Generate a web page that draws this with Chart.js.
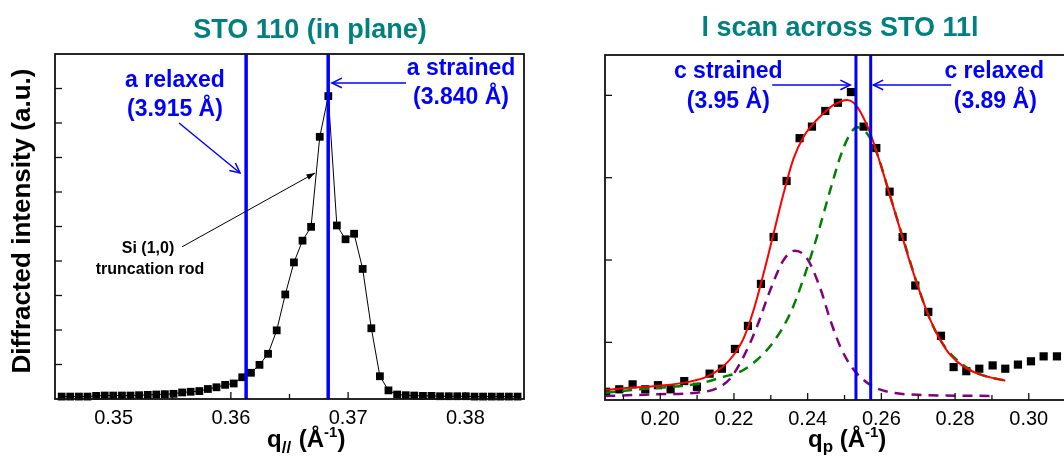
<!DOCTYPE html>
<html>
<head>
<meta charset="utf-8">
<script src="https://cdn.jsdelivr.net/npm/chart.js@4"></script>
<style>
  html, body { margin: 0; padding: 0; background: #fff; overflow: hidden; width: 1064px; height: 459px; }
  #left { position: absolute; left: 0; top: 0; }
  #right { position: absolute; left: 540px; top: 0; }
</style>
</head>
<body>
<canvas id="left" width="540" height="459"></canvas>
<canvas id="right" width="540" height="459"></canvas>
<script>
const FONT = 'Arial, "Liberation Sans", sans-serif';

// left panel: STO 110 in plane
const leftQ = [0.34557, 0.34630, 0.34704, 0.34777, 0.34851, 0.34924, 0.34997, 0.35071, 0.35144, 0.35217,
  0.35291, 0.35364, 0.35437, 0.35511, 0.35584, 0.35657, 0.35731, 0.35804, 0.35877, 0.35951,
  0.36024, 0.36097, 0.36171, 0.36244, 0.36317, 0.36391, 0.36464, 0.36538, 0.36611, 0.36684,
  0.36758, 0.36831, 0.36904, 0.36978, 0.37051, 0.37124, 0.37198, 0.37271, 0.37344, 0.37418,
  0.37491, 0.37564, 0.37638, 0.37711, 0.37784, 0.37858, 0.37931, 0.38004, 0.38078, 0.38151,
  0.38225, 0.38298, 0.38371, 0.38445];
const leftI = [0.07, 0.07, 0.07, 0.07, 0.09, 0.10, 0.10, 0.10, 0.10, 0.11,
  0.12, 0.13, 0.14, 0.15, 0.19, 0.21, 0.23, 0.29, 0.34, 0.41,
  0.45, 0.63, 0.76, 0.99, 1.31, 1.99, 3.03, 3.96, 4.59, 4.99,
  7.60, 8.78, 5.03, 4.63, 4.79, 3.77, 2.05, 0.66, 0.25, 0.13,
  0.11, 0.10, 0.09, 0.09, 0.08, 0.08, 0.08, 0.08, 0.07, 0.07,
  0.07, 0.07, 0.07, 0.07];
const aRelaxed = 0.3613;
const aStrained = 0.3683;
const leftXMajor = [0.35, 0.36, 0.37, 0.38];
const leftXMinor = [0.355, 0.365, 0.375];
const leftYTicks = [1, 2, 3, 4, 5, 6, 7, 8, 9];

// right panel: l scan across STO 11l
const rightQ = [0.1853, 0.18887, 0.19249, 0.19593, 0.19937, 0.20280, 0.20651, 0.20995, 0.21339, 0.21673,
  0.22026, 0.22379, 0.22732, 0.23076, 0.23428, 0.23781, 0.24116, 0.24478, 0.24821, 0.25174,
  0.25518, 0.25862, 0.26223, 0.26576, 0.26920, 0.27273, 0.27617, 0.27960, 0.28304, 0.28657,
  0.29019, 0.29362, 0.29706, 0.30059, 0.30403, 0.30764];
const rightI = [0.10, 0.13, 0.19, 0.13, 0.18, 0.13, 0.23, 0.16, 0.32, 0.38,
  0.62, 0.90, 1.41, 1.98, 2.66, 3.18, 3.32, 3.51, 3.61, 3.74,
  3.32, 3.06, 2.53, 1.98, 1.39, 1.07, 0.78, 0.40, 0.35, 0.38,
  0.42, 0.38, 0.43, 0.47, 0.53, 0.53];
const fitQ = [0.18507, 0.19005, 0.19910, 0.20814, 0.21266, 0.21719, 0.21990, 0.22261, 0.22533, 0.22804,
  0.23076, 0.23347, 0.23618, 0.23890, 0.24161, 0.24432, 0.24704, 0.25066, 0.25247, 0.25428,
  0.25699, 0.25970, 0.26242, 0.26513, 0.26784, 0.27056, 0.27327, 0.27598, 0.27870, 0.28232,
  0.28593, 0.28955, 0.29362];
const fitI = [0.121, 0.142, 0.170, 0.223, 0.283, 0.413, 0.547, 0.749, 1.093, 1.538,
  2.024, 2.510, 2.935, 3.198, 3.360, 3.482, 3.583, 3.644, 3.611, 3.502,
  3.239, 2.874, 2.470, 2.065, 1.660, 1.296, 0.972, 0.729, 0.547, 0.405,
  0.324, 0.275, 0.235];
const strainedQ = [0.18507, 0.19457, 0.20362, 0.21085, 0.21719, 0.22171, 0.22623, 0.23076, 0.23528, 0.23890,
  0.24252, 0.24613, 0.24885, 0.25111, 0.25337, 0.25608, 0.25880, 0.26242, 0.26603, 0.26965,
  0.27327, 0.27689, 0.28051, 0.28503, 0.28955, 0.29362];
const strainedI = [0.089, 0.130, 0.162, 0.202, 0.283, 0.344, 0.486, 0.709, 1.053, 1.478,
  1.984, 2.551, 2.955, 3.198, 3.312, 3.239, 2.996, 2.470, 1.943, 1.417,
  0.972, 0.668, 0.486, 0.344, 0.275, 0.235];
const relaxedQ = [0.18507, 0.19910, 0.20995, 0.21538, 0.21900, 0.22261, 0.22623, 0.22985, 0.23347, 0.23663,
  0.23980, 0.24342, 0.24613, 0.24885, 0.25156, 0.25518, 0.25880, 0.26423, 0.27146, 0.29046];
const relaxedI = [0.049, 0.069, 0.089, 0.142, 0.263, 0.526, 0.891, 1.336, 1.700, 1.814,
  1.721, 1.356, 0.972, 0.648, 0.425, 0.243, 0.142, 0.081, 0.061, 0.049];
const cStrained = 0.2531;
const cRelaxed = 0.2571;
const rightXMajor = [0.20, 0.22, 0.24, 0.26, 0.28, 0.30];
const rightXMinor = [0.19, 0.21, 0.23, 0.25, 0.27, 0.29, 0.31];
const rightYTicks = [0.7, 1.7, 2.7, 3.7];

const pts = (xs, ys) => xs.map((x, i) => ({x: x, y: ys[i]}));
const vline = (x, y0, y1) => [{x: x, y: y0}, {x: x, y: y1}];

function arrow(ctx, x1, y1, x2, y2, filled) {
  const ang = Math.atan2(y2 - y1, x2 - x1);
  const L = filled ? 9 : 11, w = filled ? 0.33 : 0.45;
  ctx.beginPath(); ctx.moveTo(x1, y1); ctx.lineTo(x2, y2); ctx.stroke();
  ctx.beginPath();
  ctx.moveTo(x2 - L * Math.cos(ang - w), y2 - L * Math.sin(ang - w));
  ctx.lineTo(x2, y2);
  ctx.lineTo(x2 - L * Math.cos(ang + w), y2 - L * Math.sin(ang + w));
  if (filled) { ctx.closePath(); ctx.fill(); } else ctx.stroke();
}

function drawParts(ctx, x, y, parts) {
  ctx.textAlign = 'left';
  ctx.textBaseline = 'alphabetic';
  parts.forEach(p => {
    ctx.font = 'bold ' + p.size + 'px ' + FONT;
    ctx.fillText(p.t, x, y + (p.dy || 0));
    x += ctx.measureText(p.t).width + (p.gap || 0);
  });
}

// frame, inward ticks, titles and annotations
function makeDecor(spec) {
  return {
    id: 'decor',
    afterDraw(chart) {
      const ctx = chart.ctx, a = chart.chartArea;
      const sx = chart.scales.x, sy = chart.scales.y;
      ctx.save();
      ctx.strokeStyle = '#111';
      ctx.lineWidth = 1.3;
      sx.ticks.forEach(t => {
        const px = sx.getPixelForValue(t.value);
        const len = spec.xMajor.includes(t.value) ? 7 : 5;
        ctx.beginPath(); ctx.moveTo(px, a.bottom); ctx.lineTo(px, a.bottom - len); ctx.stroke();
      });
      spec.yTicks.forEach(v => {
        const py = sy.getPixelForValue(v);
        ctx.beginPath(); ctx.moveTo(a.left, py); ctx.lineTo(a.left + 7, py); ctx.stroke();
      });
      ctx.lineWidth = 1.8;
      ctx.strokeRect(a.left, a.top, a.right - a.left, a.bottom - a.top);

      spec.arrows.forEach(r => {
        ctx.strokeStyle = r.color; ctx.fillStyle = r.color; ctx.lineWidth = r.width;
        arrow(ctx, sx.getPixelForValue(r.x1), sy.getPixelForValue(r.y1),
          sx.getPixelForValue(r.x2), sy.getPixelForValue(r.y2), r.filled);
      });
      ctx.textAlign = 'center';
      ctx.textBaseline = 'alphabetic';
      spec.notes.forEach(n => {
        ctx.fillStyle = n.color;
        ctx.font = 'bold ' + n.size + 'px ' + FONT;
        ctx.fillText(n.text, sx.getPixelForValue(n.x), sy.getPixelForValue(n.y));
      });

      ctx.fillStyle = '#008080';
      ctx.font = 'bold 27px ' + FONT;
      ctx.fillText(spec.title, spec.titleX, spec.titleY);

      ctx.fillStyle = '#000';
      drawParts(ctx, spec.xTitleX, 447, spec.xTitle);
      if (spec.yTitle) {
        ctx.save();
        ctx.translate(23, 221);
        ctx.rotate(-Math.PI / 2);
        ctx.textAlign = 'center';
        ctx.textBaseline = 'middle';
        ctx.font = 'bold 26px ' + FONT;
        ctx.fillText(spec.yTitle, 0, 0);
        ctx.restore();
      }
      ctx.restore();
    }
  };
}

function xScale(min, max, major, minor, h) {
  return {
    type: 'linear', min: min, max: max,
    grid: {display: false, drawTicks: false},
    border: {display: false},
    ticks: {
      font: {size: 20}, color: '#000', padding: 7, autoSkip: false, maxRotation: 0,
      callback: v => major.includes(v) ? v.toFixed(2) : ''
    },
    afterBuildTicks: s => { s.ticks = major.concat(minor).sort((p, q) => p - q).map(v => ({value: v})); },
    afterFit: s => { s.height = h; }
  };
}

function yScale(min, max, w) {
  return {
    type: 'linear', min: min, max: max,
    grid: {display: false, drawTicks: false},
    border: {display: false},
    ticks: {display: false},
    afterFit: s => { s.width = w; }
  };
}

Chart.defaults.font.family = FONT;

const common = {
  responsive: false,
  animation: false,
  events: [],
  plugins: {legend: {display: false}, tooltip: {enabled: false}}
};

new Chart(document.getElementById('left'), {
  type: 'scatter',
  data: {
    datasets: [
      {data: vline(aRelaxed, 0, 10), showLine: true, borderColor: '#0000ff', borderWidth: 3.5, pointRadius: 0, order: 0},
      {data: vline(aStrained, 0, 10), showLine: true, borderColor: '#0000ff', borderWidth: 3.5, pointRadius: 0, order: 0},
      {data: pts(leftQ, leftI), showLine: true, borderColor: '#000', borderWidth: 1,
        pointStyle: 'rect', pointRadius: 5.5, pointBackgroundColor: '#000', pointBorderWidth: 0, clip: false, order: 1}
    ]
  },
  options: Object.assign({}, common, {
    layout: {padding: {left: 0, top: 54, right: 16, bottom: 0}},
    scales: {x: xScale(0.345, 0.385, leftXMajor, leftXMinor, 60), y: yScale(0, 10, 55)}
  }),
  plugins: [makeDecor({
    xMajor: leftXMajor, yTicks: leftYTicks,
    title: 'STO 110 (in plane)', titleX: 310, titleY: 38,
    yTitle: 'Diffracted intensity (a.u.)',
    xTitleX: 267,
    xTitle: [{t: 'q', size: 24}, {t: '//', size: 17, dy: 6, gap: 1}, {t: ' (Å', size: 24}, {t: '-1', size: 15, dy: -10}, {t: ')', size: 24}],
    notes: [
      {text: 'a relaxed', x: 0.35523, y: 9.04, color: '#0000ff', size: 23},
      {text: '(3.915 Å)', x: 0.35523, y: 8.19, color: '#0000ff', size: 23},
      {text: 'a strained', x: 0.37963, y: 9.40, color: '#0000ff', size: 23},
      {text: '(3.840 Å)', x: 0.37963, y: 8.55, color: '#0000ff', size: 23},
      {text: 'Si (1,0)', x: 0.35293, y: 4.22, color: '#000', size: 16},
      {text: 'truncation rod', x: 0.3531, y: 3.61, color: '#000', size: 16}
    ],
    arrows: [
      {x1: 0.35558, y1: 8.0, x2: 0.36078, y2: 6.55, color: '#0000ff', width: 1.5},
      {x1: 0.37494, y1: 9.16, x2: 0.36862, y2: 9.16, color: '#0000ff', width: 1.5},
      {x1: 0.35583, y1: 4.41, x2: 0.36717, y2: 6.55, color: '#000', width: 1, filled: true}
    ]
  })]
});

new Chart(document.getElementById('right'), {
  type: 'scatter',
  data: {
    datasets: [
      {data: vline(cStrained, 0, 4.19), showLine: true, borderColor: '#0000ff', borderWidth: 3, pointRadius: 0, order: 0},
      {data: vline(cRelaxed, 0, 4.19), showLine: true, borderColor: '#0000ff', borderWidth: 3, pointRadius: 0, order: 0},
      {data: pts(fitQ, fitI), showLine: true, borderColor: '#ff0000', borderWidth: 2, pointRadius: 0,
        cubicInterpolationMode: 'monotone', order: 1},
      {data: pts(strainedQ, strainedI), showLine: true, borderColor: '#008000', borderWidth: 2.5, borderDash: [10, 7],
        pointRadius: 0, cubicInterpolationMode: 'monotone', order: 2},
      {data: pts(relaxedQ, relaxedI), showLine: true, borderColor: '#800080', borderWidth: 2.5, borderDash: [10, 7],
        pointRadius: 0, cubicInterpolationMode: 'monotone', order: 3},
      {data: pts(rightQ, rightI), pointStyle: 'rect', pointRadius: 5.8, pointBackgroundColor: '#000',
        pointBorderWidth: 0, order: 4}
    ]
  },
  options: Object.assign({}, common, {
    layout: {padding: {left: 0, top: 55, right: 14, bottom: 0}},
    scales: {x: xScale(0.185, 0.3101, rightXMajor, rightXMinor, 59), y: yScale(0, 4.19, 65)}
  }),
  plugins: [makeDecor({
    xMajor: rightXMajor, yTicks: rightYTicks,
    title: 'l scan across STO 11l', titleX: 300, titleY: 36,
    yTitle: null,
    xTitleX: 268,
    xTitle: [{t: 'q', size: 24}, {t: 'p', size: 17, dy: 5}, {t: ' (Å', size: 24}, {t: '-1', size: 15, dy: -10}, {t: ')', size: 24}],
    notes: [
      {text: 'c strained', x: 0.21845, y: 3.907, color: '#0000ff', size: 23},
      {text: '(3.95 Å)', x: 0.21845, y: 3.55, color: '#0000ff', size: 23},
      {text: 'c relaxed', x: 0.29064, y: 3.907, color: '#0000ff', size: 23},
      {text: '(3.89 Å)', x: 0.29091, y: 3.55, color: '#0000ff', size: 23}
    ],
    arrows: [
      {x1: 0.23039, y1: 3.826, x2: 0.25156, y2: 3.826, color: '#0000ff', width: 1.5},
      {x1: 0.27897, y1: 3.826, x2: 0.25780, y2: 3.826, color: '#0000ff', width: 1.5}
    ]
  })]
});
</script>
</body>
</html>
